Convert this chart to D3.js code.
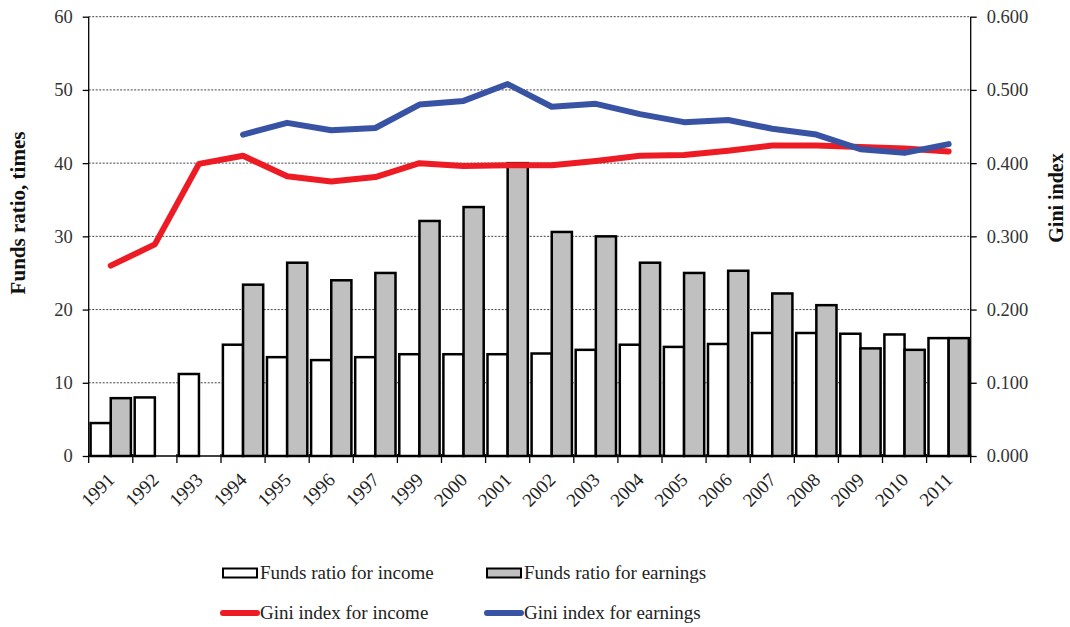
<!DOCTYPE html>
<html><head><meta charset="utf-8">
<script src="https://cdn.jsdelivr.net/npm/d3@7"></script>
<style>body{margin:0;background:#fff}svg text{font-family:"Liberation Serif","Times New Roman",Times,serif !important}</style>
</head><body><svg id="c" width="1070" height="627"></svg>
<script>
const years = ["1991","1992","1993","1994","1995","1996","1997","1999","2000","2001","2002","2003","2004","2005","2006","2007","2008","2009","2010","2011"];
const fundsIncome = [4.5,8.0,11.2,15.2,13.5,13.1,13.5,13.9,13.9,13.9,14.0,14.5,15.2,14.9,15.3,16.8,16.8,16.7,16.6,16.1];
const fundsEarnings = [7.9,null,null,23.4,26.4,24.0,25.0,32.1,34.0,40.0,30.6,30.0,26.4,25.0,25.3,22.2,20.6,14.7,14.5,16.1];
const giniIncome = [0.260,0.289,0.399,0.410,0.382,0.375,0.381,0.400,0.396,0.397,0.397,0.403,0.410,0.411,0.417,0.424,0.424,0.422,0.420,0.416];
const giniEarnings = [null,null,null,0.439,0.455,0.445,0.448,0.480,0.485,0.508,0.477,0.481,0.467,0.456,0.459,0.447,0.439,0.419,0.414,0.426];
const leftTicks = [0,10,20,30,40,50,60];
const rightTicks = [0,0.1,0.2,0.3,0.4,0.5,0.6];
const legendItems = ["Funds ratio for income","Funds ratio for earnings","Gini index for income","Gini index for earnings"];

const svg = d3.select("#c");
const L = 88.7, R = 970.7, T = 16.7, B = 456;
const x = d3.scaleBand().domain(years).range([L,R]).padding(0);
const yL = d3.scaleLinear().domain([0,60]).range([B,T]);
const yR = d3.scaleLinear().domain([0,0.6]).range([B,T]);
const sub = d3.scaleBand().domain(["inc","earn"]).range([0,x.bandwidth()]).paddingInner(0).paddingOuter(0.094);

// gridlines
svg.append("g").selectAll("line").data(leftTicks.filter(d=>d>0)).join("line")
  .attr("x1",L).attr("x2",R).attr("y1",d=>yL(d)).attr("y2",d=>yL(d))
  .attr("stroke","#444").attr("stroke-width",1).attr("stroke-dasharray","2,1.5");

// bars
const bars = svg.append("g");
years.forEach((yr,i)=>{
  [["inc",fundsIncome[i],"#fff"],["earn",fundsEarnings[i],"#c0c0c0"]].forEach(([k,v,f])=>{
    if(v==null) return;
    bars.append("rect").attr("x",x(yr)+sub(k)).attr("width",sub.bandwidth())
      .attr("y",yL(v)).attr("height",B-yL(v))
      .attr("fill",f).attr("stroke","#000").attr("stroke-width",2.5);
  });
});

// axes
const axL = svg.append("g").attr("transform",`translate(${L},0)`).call(d3.axisLeft(yL).tickValues(leftTicks).tickSize(6).tickPadding(10));
const axR = svg.append("g").attr("transform",`translate(${R},0)`).call(d3.axisRight(yR).tickValues(rightTicks).tickFormat(d3.format(".3f")).tickSize(6).tickPadding(10));
[axL,axR].forEach(a=>{a.select(".domain").attr("stroke","#000").attr("stroke-width",1.3);
  a.selectAll(".tick line").attr("stroke","#000").attr("stroke-width",1.3);
  a.selectAll("text").attr("font-size",18.5).attr("fill","#333");});
axL.select(".domain").attr("d",`M0,${B}V${T}`);
axR.select(".domain").attr("d",`M0,${B}V${T}`);

// x axis
const gx = svg.append("g");
gx.append("line").attr("x1",L).attr("x2",R).attr("y1",B).attr("y2",B).attr("stroke","#000").attr("stroke-width",1.3);
const bounds = years.map(y=>x(y)).concat([R]);
gx.selectAll("line.t").data(bounds).join("line").attr("class","t")
  .attr("x1",d=>d).attr("x2",d=>d).attr("y1",B-2).attr("y2",B+7).attr("stroke","#000").attr("stroke-width",1.3);
gx.selectAll("text").data(years).join("text")
  .attr("transform",d=>`translate(${x(d)+x.bandwidth()/2+5},${B+25}) rotate(-45)`)
  .attr("text-anchor","end").attr("font-size",19).attr("fill","#222").text(d=>d);

// lines
const line = d3.line().defined(d=>d[1]!=null).x(d=>x(d[0])+x.bandwidth()/2).y(d=>yR(d[1]));
svg.append("path").datum(years.map((y,i)=>[y,giniIncome[i]])).attr("d",line)
  .attr("fill","none").attr("stroke","#ed1c24").attr("stroke-width",6).attr("stroke-linejoin","round").attr("stroke-linecap","round");
svg.append("path").datum(years.map((y,i)=>[y,giniEarnings[i]])).attr("d",line)
  .attr("fill","none").attr("stroke","#3953a4").attr("stroke-width",6).attr("stroke-linejoin","round").attr("stroke-linecap","round");

// axis titles
svg.append("text").attr("transform","translate(25,213) rotate(-90)").attr("text-anchor","middle")
  .attr("font-size",21).attr("font-weight","bold").attr("fill","#111").text("Funds ratio, times");
svg.append("text").attr("transform","translate(1063,198) rotate(-90)").attr("text-anchor","middle")
  .attr("font-size",20).attr("font-weight","bold").attr("fill","#111").text("Gini index");

// legend
const lg = svg.append("g");
const pos = [[223,573],[487,573],[223,613],[487,613]];
lg.append("rect").attr("x",pos[0][0]).attr("y",pos[0][1]-4.5).attr("width",34).attr("height",9).attr("fill","#fff").attr("stroke","#000").attr("stroke-width",2);
lg.append("rect").attr("x",pos[1][0]).attr("y",pos[1][1]-4.5).attr("width",34).attr("height",9).attr("fill","#c0c0c0").attr("stroke","#000").attr("stroke-width",2);
lg.append("line").attr("x1",pos[2][0]).attr("x2",pos[2][0]+34).attr("y1",pos[2][1]).attr("y2",pos[2][1]).attr("stroke","#ed1c24").attr("stroke-width",6).attr("stroke-linecap","round");
lg.append("line").attr("x1",pos[3][0]).attr("x2",pos[3][0]+34).attr("y1",pos[3][1]).attr("y2",pos[3][1]).attr("stroke","#3953a4").attr("stroke-width",6).attr("stroke-linecap","round");
legendItems.forEach((t,i)=>{
  lg.append("text").attr("x",pos[i][0]+37).attr("y",pos[i][1]+6).attr("font-size",19).attr("fill","#222").text(t);
});
</script></body></html>
